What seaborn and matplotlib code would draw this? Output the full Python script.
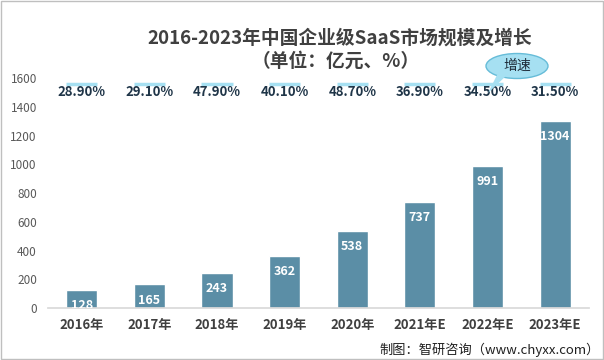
import pandas as pd
import seaborn as sns
import matplotlib.pyplot as plt
from matplotlib.patches import Ellipse, Polygon

years = ["2016年", "2017年", "2018年", "2019年", "2020年", "2021年E", "2022年E", "2023年E"]
market = [128, 165, 243, 362, 538, 737, 991, 1304]
growth = ["28.90%", "29.10%", "47.90%", "40.10%", "48.70%", "36.90%", "34.50%", "31.50%"]

sns.set_theme(style="white")
plt.rcParams['font.family'] = ['Noto Sans CJK SC', 'DejaVu Sans']

df = pd.DataFrame({"year": years, "value": market})

fig = plt.figure(figsize=(6.04, 3.6), dpi=100)
ax = fig.add_axes([0.0795, 0.1444, 0.8955, 0.6389])

sns.barplot(ax=ax, data=df, x="year", y="value", color="#5b8ea6",
            width=0.46, saturation=1)

ax.set_ylim(0, 1600)
ax.set_xlim(-0.5, len(years) - 0.5)
ax.set_yticks(range(0, 1601, 200))
ax.tick_params(axis="y", labelsize=8.5, labelcolor="#595959", length=0, pad=8)
ax.tick_params(axis="x", labelsize=9.5, labelcolor="#404040", length=0, pad=7)
for lab in ax.get_xticklabels():
    lab.set_fontweight("bold")
ax.set_xlabel("")
ax.set_ylabel("")
for s in ["top", "right", "left"]:
    ax.spines[s].set_visible(False)
ax.spines["bottom"].set_color("#d9d9d9")

# 柱内数值
for i, v in enumerate(market):
    ax.text(i, v - 110, str(v), ha="center", va="center", color="white",
            fontsize=9, fontweight="bold", clip_on=True)

# 增速
for i, g in enumerate(growth):
    ax.plot([i - 0.23, i + 0.23], [1555, 1555], color="#a6e0f2", lw=2.5,
            solid_capstyle="butt", zorder=2)
    ax.text(i, 1502, g, ha="center", va="center", color="#1f3548",
            fontsize=9.5, fontweight="bold", zorder=3)

# 增速 标注气泡
ell = Ellipse((517, 294), 62, 25, transform=None, facecolor="#a6e0f2",
              edgecolor="#66bcd8", lw=1, zorder=5)
fig.patches.append(ell)
tail = Polygon([[497, 285], [507, 285], [488, 267]], closed=True, transform=None,
               facecolor="#a6e0f2", edgecolor="none", zorder=6)
fig.patches.append(tail)
fig.text(517 / 604, 294 / 360, "增速", ha="center", va="center",
         fontsize=10, color="#1f2d3a", zorder=7)

fig.text(340 / 604, 1 - 38 / 360, "2016-2023年中国企业级SaaS市场规模及增长",
         ha="center", va="center", fontsize=13.5, fontweight="bold", color="#404040")
fig.text(336 / 604, 1 - 61 / 360, "（单位：亿元、%）",
         ha="center", va="center", fontsize=13.5, fontweight="bold", color="#404040")
fig.text(600 / 604, 1 - 350 / 360, "制图：智研咨询（www.chyxx.com）",
         ha="right", va="center", fontsize=9.5, color="#202020")

border = plt.Rectangle((0.001, 0.002), 0.997, 0.995, transform=fig.transFigure,
                       fill=False, edgecolor="#bfbfbf", lw=1)
fig.patches.append(border)

fig.savefig("out.png", dpi=100)
plt.close(fig)
